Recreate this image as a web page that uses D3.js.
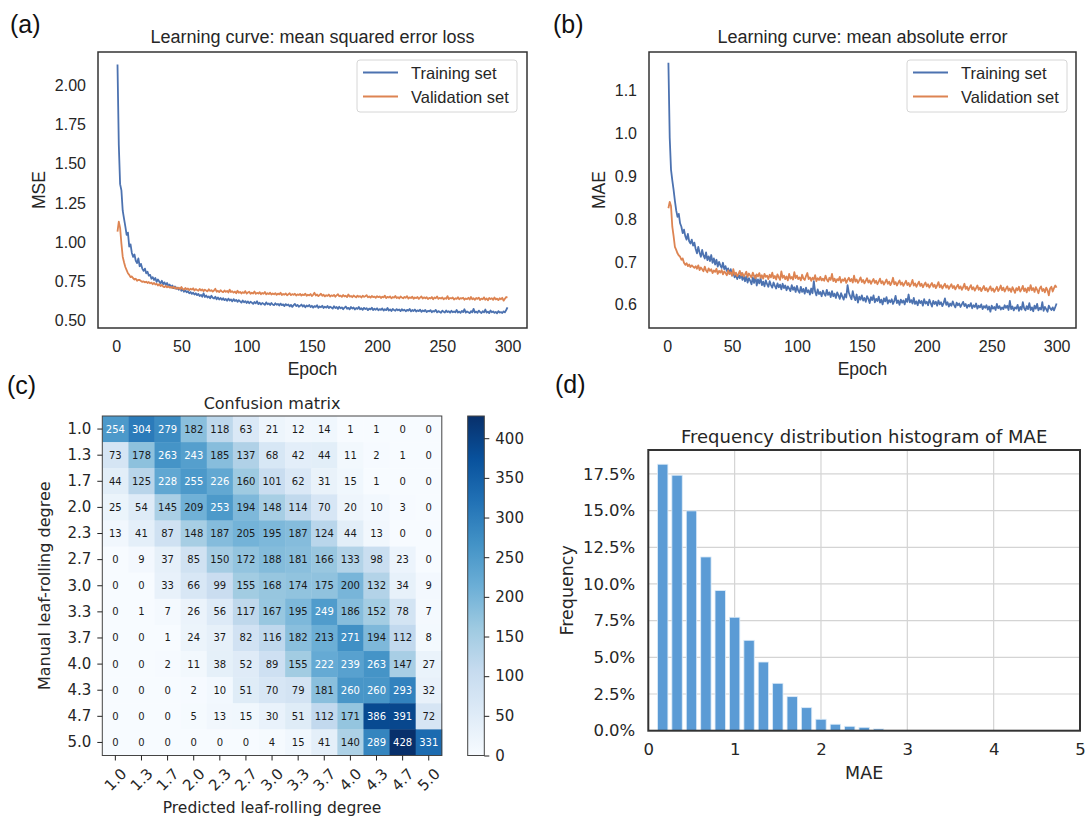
<!DOCTYPE html>
<html>
<head>
<script src="https://d3js.org/d3.v7.min.js"></script>
<style>
  body { margin: 0; background: #fff; }
  svg { display: block; }
</style>
</head>
<body>
<svg width="1086" height="819"></svg>
<script>
// ---- data ----
var epochs = d3.range(1, 301);

var mseTrain = [
  2.135,1.62,1.37,1.33,1.20,1.15,1.10,1.045,1.06,0.97,0.985,0.93,0.905,0.92,0.88,0.865,0.895,0.845,0.86,0.83,
  0.815,0.83,0.80,0.81,0.785,0.79,0.765,0.775,0.757,0.77,0.745,0.76,0.748,0.735,0.752,0.73,0.742,0.725,0.738,0.72,
  0.728,0.71,0.722,0.705,0.715,0.70,0.708,0.695,0.703,0.688,0.698,0.682,0.69,0.678,0.686,0.672,0.68,0.668,0.676,0.664,
  0.672,0.66,0.668,0.655,0.662,0.65,0.672,0.648,0.658,0.645,0.652,0.64,0.656,0.643,0.638,0.65,0.634,0.645,0.632,0.642,
  0.63,0.64,0.628,0.636,0.624,0.638,0.626,0.633,0.62,0.635,0.622,0.63,0.617,0.628,0.62,0.612,0.626,0.615,0.622,0.61,
  0.62,0.608,0.618,0.612,0.604,0.616,0.608,0.621,0.603,0.612,0.6,0.61,0.605,0.598,0.614,0.602,0.607,0.597,0.61,0.6,
  0.596,0.608,0.599,0.604,0.594,0.606,0.596,0.601,0.59,0.603,0.595,0.6,0.588,0.598,0.585,0.596,0.604,0.59,0.598,0.586,
  0.592,0.6,0.587,0.596,0.582,0.594,0.588,0.597,0.584,0.592,0.58,0.59,0.585,0.596,0.579,0.588,0.583,0.592,0.578,0.587,
  0.58,0.591,0.577,0.586,0.581,0.574,0.589,0.578,0.584,0.572,0.586,0.576,0.582,0.57,0.58,0.587,0.573,0.579,0.569,0.584,
  0.575,0.581,0.568,0.578,0.572,0.585,0.57,0.576,0.566,0.579,0.571,0.577,0.564,0.574,0.569,0.58,0.565,0.573,0.567,0.576,
  0.563,0.571,0.566,0.575,0.561,0.57,0.564,0.578,0.562,0.569,0.559,0.572,0.565,0.56,0.571,0.563,0.568,0.558,0.57,0.562,
  0.567,0.557,0.566,0.561,0.572,0.556,0.565,0.559,0.568,0.555,0.563,0.558,0.567,0.553,0.562,0.557,0.565,0.552,0.56,0.556,
  0.564,0.551,0.559,0.555,0.566,0.55,0.558,0.553,0.547,0.561,0.554,0.549,0.562,0.552,0.557,0.548,0.56,0.551,0.556,0.55,
  0.565,0.549,0.555,0.547,0.559,0.552,0.57,0.548,0.556,0.551,0.545,0.558,0.55,0.572,0.549,0.555,0.547,0.561,0.552,0.546,
  0.557,0.55,0.568,0.548,0.555,0.545,0.562,0.551,0.556,0.547,0.553,0.544,0.558,0.549,0.552,0.546,0.556,0.55,0.565,0.582
];
var mseVal = [
  1.066,1.13,1.09,0.99,0.906,0.87,0.84,0.82,0.80,0.79,0.775,0.78,0.768,0.76,0.765,0.752,0.758,0.757,0.75,0.745,
  0.748,0.742,0.746,0.738,0.744,0.736,0.74,0.73,0.738,0.728,0.733,0.722,0.73,0.718,0.726,0.715,0.712,0.72,0.71,0.716,
  0.708,0.713,0.705,0.714,0.702,0.71,0.7,0.708,0.698,0.712,0.7,0.695,0.706,0.697,0.703,0.692,0.701,0.696,0.704,0.69,
  0.699,0.693,0.688,0.7,0.69,0.697,0.686,0.695,0.689,0.684,0.698,0.687,0.692,0.683,0.69,0.701,0.682,0.688,0.68,0.692,
  0.684,0.679,0.69,0.681,0.687,0.677,0.695,0.68,0.685,0.676,0.683,0.672,0.688,0.675,0.681,0.671,0.679,0.674,0.686,0.67,
  0.677,0.682,0.669,0.676,0.671,0.684,0.668,0.675,0.67,0.679,0.666,0.674,0.669,0.68,0.665,0.672,0.667,0.676,0.664,0.671,
  0.666,0.673,0.662,0.67,0.665,0.675,0.661,0.668,0.663,0.671,0.659,0.666,0.672,0.66,0.667,0.662,0.669,0.658,0.665,0.661,
  0.668,0.657,0.664,0.66,0.67,0.656,0.663,0.659,0.667,0.655,0.662,0.675,0.658,0.664,0.654,0.661,0.669,0.656,0.663,0.652,
  0.66,0.655,0.664,0.651,0.659,0.654,0.662,0.65,0.658,0.666,0.653,0.657,0.649,0.661,0.652,0.656,0.648,0.664,0.651,0.655,
  0.647,0.658,0.652,0.646,0.657,0.65,0.654,0.645,0.656,0.649,0.653,0.66,0.646,0.652,0.644,0.655,0.648,0.651,0.643,0.654,
  0.647,0.652,0.642,0.65,0.646,0.657,0.641,0.649,0.645,0.652,0.64,0.648,0.644,0.655,0.642,0.647,0.639,0.651,0.645,0.64,
  0.649,0.643,0.654,0.638,0.646,0.642,0.65,0.637,0.645,0.641,0.648,0.636,0.644,0.652,0.639,0.646,0.64,0.647,0.635,0.643,
  0.639,0.648,0.634,0.645,0.64,0.652,0.636,0.643,0.638,0.646,0.633,0.641,0.637,0.654,0.635,0.642,0.639,0.645,0.632,0.64,
  0.636,0.647,0.634,0.641,0.638,0.644,0.631,0.639,0.635,0.643,0.632,0.648,0.634,0.64,0.63,0.642,0.636,0.644,0.629,0.638,
  0.634,0.646,0.631,0.639,0.627,0.642,0.635,0.64,0.63,0.645,0.633,0.638,0.628,0.64,0.634,0.643,0.625,0.637,0.648,0.645
];
var maeTrain = [
  1.164,0.99,0.915,0.89,0.868,0.842,0.82,0.805,0.812,0.79,0.782,0.767,0.775,0.76,0.752,0.765,0.748,0.743,0.752,0.738,
  0.745,0.73,0.72,0.735,0.722,0.712,0.728,0.715,0.708,0.722,0.704,0.713,0.702,0.716,0.698,0.708,0.694,0.705,0.689,0.7,
  0.692,0.686,0.698,0.683,0.69,0.679,0.685,0.672,0.683,0.668,0.676,0.664,0.672,0.66,0.67,0.662,0.674,0.658,0.668,0.655,
  0.666,0.652,0.662,0.656,0.648,0.664,0.651,0.668,0.645,0.659,0.65,0.662,0.646,0.654,0.643,0.657,0.648,0.642,0.655,0.646,
  0.64,0.652,0.644,0.638,0.65,0.641,0.647,0.636,0.649,0.639,0.645,0.634,0.643,0.638,0.632,0.646,0.635,0.641,0.63,0.644,
  0.633,0.628,0.642,0.63,0.637,0.626,0.64,0.629,0.634,0.624,0.638,0.627,0.655,0.631,0.622,0.636,0.625,0.63,0.62,0.633,
  0.626,0.621,0.635,0.623,0.629,0.618,0.632,0.62,0.626,0.616,0.629,0.622,0.614,0.627,0.619,0.612,0.625,0.617,0.646,0.628,
  0.62,0.613,0.632,0.618,0.611,0.624,0.605,0.619,0.612,0.622,0.61,0.616,0.607,0.62,0.614,0.604,0.618,0.611,0.622,0.606,
  0.614,0.609,0.619,0.605,0.612,0.601,0.615,0.608,0.618,0.603,0.611,0.606,0.613,0.602,0.609,0.621,0.604,0.61,0.6,0.612,
  0.605,0.61,0.601,0.614,0.607,0.624,0.606,0.611,0.603,0.616,0.602,0.608,0.599,0.611,0.604,0.609,0.598,0.613,0.603,0.607,
  0.599,0.612,0.604,0.596,0.609,0.602,0.607,0.598,0.61,0.601,0.606,0.597,0.604,0.615,0.6,0.606,0.596,0.603,0.598,0.608,
  0.6,0.594,0.605,0.599,0.603,0.595,0.601,0.607,0.597,0.602,0.593,0.6,0.596,0.604,0.592,0.599,0.595,0.603,0.591,0.598,
  0.594,0.601,0.59,0.597,0.593,0.599,0.589,0.596,0.584,0.598,0.591,0.595,0.588,0.602,0.592,0.597,0.589,0.594,0.59,0.599,
  0.593,0.598,0.588,0.609,0.59,0.596,0.587,0.594,0.591,0.6,0.586,0.595,0.589,0.606,0.592,0.587,0.597,0.59,0.604,0.588,
  0.594,0.585,0.598,0.591,0.602,0.587,0.593,0.589,0.606,0.586,0.595,0.59,0.584,0.598,0.592,0.588,0.594,0.587,0.595,0.603
];
var maeVal = [
  0.825,0.84,0.83,0.782,0.76,0.735,0.728,0.72,0.715,0.712,0.705,0.708,0.698,0.693,0.697,0.69,0.694,0.688,0.692,0.689,
  0.686,0.69,0.684,0.692,0.681,0.687,0.683,0.678,0.689,0.68,0.676,0.685,0.679,0.683,0.674,0.68,0.677,0.684,0.672,0.679,
  0.675,0.681,0.671,0.678,0.674,0.669,0.68,0.672,0.676,0.668,0.683,0.67,0.675,0.667,0.672,0.679,0.668,0.674,0.666,0.671,
  0.677,0.665,0.673,0.668,0.664,0.675,0.667,0.662,0.671,0.666,0.674,0.663,0.669,0.661,0.672,0.665,0.668,0.66,0.67,0.664,
  0.675,0.662,0.667,0.659,0.671,0.664,0.658,0.678,0.663,0.668,0.66,0.666,0.657,0.672,0.661,0.665,0.659,0.676,0.662,0.668,
  0.66,0.664,0.657,0.67,0.661,0.658,0.667,0.674,0.66,0.664,0.656,0.663,0.659,0.669,0.655,0.662,0.658,0.665,0.657,0.661,
  0.656,0.668,0.659,0.654,0.663,0.658,0.672,0.655,0.661,0.653,0.66,0.657,0.665,0.652,0.659,0.656,0.662,0.651,0.658,0.663,
  0.655,0.66,0.652,0.668,0.654,0.659,0.651,0.657,0.664,0.653,0.658,0.65,0.656,0.662,0.652,0.657,0.649,0.655,0.66,0.651,
  0.656,0.648,0.654,0.661,0.65,0.655,0.647,0.653,0.659,0.649,0.654,0.646,0.652,0.663,0.648,0.653,0.645,0.651,0.657,0.647,
  0.652,0.644,0.65,0.656,0.646,0.651,0.643,0.649,0.658,0.645,0.65,0.642,0.648,0.654,0.644,0.649,0.641,0.647,0.652,0.643,
  0.648,0.64,0.646,0.651,0.642,0.647,0.639,0.645,0.653,0.641,0.646,0.638,0.644,0.649,0.64,0.645,0.637,0.643,0.648,0.639,
  0.644,0.636,0.642,0.647,0.638,0.643,0.635,0.641,0.649,0.637,0.642,0.634,0.64,0.646,0.636,0.641,0.633,0.639,0.645,0.635,
  0.64,0.632,0.638,0.644,0.634,0.639,0.631,0.637,0.643,0.633,0.638,0.63,0.636,0.642,0.632,0.637,0.645,0.634,0.64,0.631,
  0.637,0.643,0.633,0.638,0.63,0.641,0.635,0.628,0.639,0.634,0.642,0.631,0.636,0.644,0.632,0.638,0.629,0.64,0.633,0.646,
  0.634,0.639,0.63,0.641,0.635,0.627,0.638,0.643,0.632,0.637,0.629,0.64,0.634,0.622,0.638,0.642,0.631,0.639,0.645,0.64
];

var epochTicks = [0, 50, 100, 150, 200, 250, 300];
var mseTicks = [0.50, 0.75, 1.00, 1.25, 1.50, 1.75, 2.00];
var maeTicks = [0.6, 0.7, 0.8, 0.9, 1.0, 1.1];
var seriesNames = ["Training set", "Validation set"];

var degrees = ["1.0","1.3","1.7","2.0","2.3","2.7","3.0","3.3","3.7","4.0","4.3","4.7","5.0"];
var confusion = [
  [254,304,279,182,118, 63, 21, 12, 14,  1,  1,  0,  0],
  [ 73,178,263,243,185,137, 68, 42, 44, 11,  2,  1,  0],
  [ 44,125,228,255,226,160,101, 62, 31, 15,  1,  0,  0],
  [ 25, 54,145,209,253,194,148,114, 70, 20, 10,  3,  0],
  [ 13, 41, 87,148,187,205,195,187,124, 44, 13,  0,  0],
  [  0,  9, 37, 85,150,172,188,181,166,133, 98, 23,  0],
  [  0,  0, 33, 66, 99,155,168,174,175,200,132, 34,  9],
  [  0,  1,  7, 26, 56,117,167,195,249,186,152, 78,  7],
  [  0,  0,  1, 24, 37, 82,116,182,213,271,194,112,  8],
  [  0,  0,  2, 11, 38, 52, 89,155,222,239,263,147, 27],
  [  0,  0,  0,  2, 10, 51, 70, 79,181,260,260,293, 32],
  [  0,  0,  0,  5, 13, 15, 30, 51,112,171,386,391, 72],
  [  0,  0,  0,  0,  0,  0,  4, 15, 41,140,289,428,331]
];
var colorbarTicks = [0, 50, 100, 150, 200, 250, 300, 350, 400];

var histCenters = [0.167,0.333,0.5,0.667,0.833,1.0,1.167,1.333,1.5,1.667,1.833,2.0,2.167,2.333,2.5,2.667];
var histFreq = [18.16,17.41,14.98,11.84,9.55,7.73,6.16,4.68,3.23,2.32,1.57,0.78,0.44,0.30,0.23,0.12];
var freqTicks = [0, 2.5, 5, 7.5, 10, 12.5, 15, 17.5];
var maeXTicks = [0, 1, 2, 3, 4, 5];

// ---- drawing ----
var svg = d3.select("svg");
var ARIAL = "'Liberation Sans', Arial, sans-serif";
var DEJAVU = "'DejaVu Sans', sans-serif";
var ink = "#262626";
var blue = "#4c72b0", orange = "#dd8452";

function panelLabel(txt, x, y) {
  svg.append("text").attr("x", x).attr("y", y).text(txt)
    .attr("font-family", ARIAL).attr("font-size", 25).attr("fill", "#111");
}

function styleAxis(sel, family, size) {
  sel.attr("font-family", family).attr("font-size", size);
  sel.selectAll("text").attr("fill", ink);
}

function learningPanel(p) {
  var x = d3.scaleLinear().domain([-13.95, 314.95]).range([p.left, p.right]);
  var y = d3.scaleLinear().domain(p.yDomain).range([p.bottom, p.top]);
  var g = svg.append("g");

  var line = d3.line().x(function (d, i) { return x(epochs[i]); }).y(function (d) { return y(d); });
  [[p.train, blue], [p.val, orange]].forEach(function (s) {
    g.append("path").datum(s[0]).attr("d", line)
      .attr("fill", "none").attr("stroke", s[1]).attr("stroke-width", 1.8)
      .attr("stroke-linejoin", "round");
  });

  g.append("rect").attr("x", p.left).attr("y", p.top)
    .attr("width", p.right - p.left).attr("height", p.bottom - p.top)
    .attr("fill", "none").attr("stroke", "#333").attr("stroke-width", 1.5);

  var ya = g.append("g").attr("transform", "translate(" + p.left + ",0)")
    .call(d3.axisLeft(y).tickValues(p.yTicks).tickSize(0).tickPadding(12).tickFormat(p.fmt));
  ya.select(".domain").remove();
  styleAxis(ya, ARIAL, 16);

  var xa = g.append("g").attr("transform", "translate(0," + p.bottom + ")")
    .call(d3.axisBottom(x).tickValues(epochTicks).tickSize(0).tickPadding(13).tickFormat(d3.format("d")));
  xa.select(".domain").remove();
  styleAxis(xa, ARIAL, 16);

  var cx = (p.left + p.right) / 2;
  g.append("text").attr("x", cx).attr("y", 43).attr("text-anchor", "middle")
    .attr("font-family", ARIAL).attr("font-size", 18).attr("fill", ink).text(p.title);
  g.append("text").attr("x", cx).attr("y", 375).attr("text-anchor", "middle")
    .attr("font-family", ARIAL).attr("font-size", 17.5).attr("fill", ink).text("Epoch");
  g.append("text").attr("transform", "translate(" + p.ylabX + "," + ((p.top + p.bottom) / 2) + ") rotate(-90)")
    .attr("text-anchor", "middle").attr("font-family", ARIAL).attr("font-size", 17.5)
    .attr("fill", ink).text(p.ylabel);

  // legend
  var lg = g.append("g").attr("transform", "translate(" + p.legX + ",60)");
  lg.append("rect").attr("width", 160).attr("height", 52).attr("rx", 3)
    .attr("fill", "#fff").attr("fill-opacity", 0.8).attr("stroke", "#d6d6d6");
  [blue, orange].forEach(function (c, i) {
    var yy = 12.5 + i * 24;
    lg.append("line").attr("x1", 6).attr("x2", 41).attr("y1", yy).attr("y2", yy)
      .attr("stroke", c).attr("stroke-width", 1.8);
    lg.append("text").attr("x", 54).attr("y", yy + 6).attr("font-family", ARIAL)
      .attr("font-size", 16.5).attr("fill", ink).text(seriesNames[i]);
  });
}

learningPanel({
  left: 98, right: 527, top: 52, bottom: 328, yDomain: [0.45, 2.215], yTicks: mseTicks,
  fmt: d3.format(".2f"), train: mseTrain, val: mseVal,
  title: "Learning curve: mean squared error loss", ylabel: "MSE", ylabX: 45, legX: 357
});
learningPanel({
  left: 649, right: 1076, top: 52, bottom: 328, yDomain: [0.546, 1.189], yTicks: maeTicks,
  fmt: d3.format(".1f"), train: maeTrain, val: maeVal,
  title: "Learning curve: mean absolute error", ylabel: "MAE", ylabX: 605, legX: 907
});

panelLabel("(a)", 10, 33);
panelLabel("(b)", 553, 33);
panelLabel("(c)", 7, 394);
panelLabel("(d)", 555, 393);

// ---- (c) confusion matrix ----
(function () {
  var left = 102.3, top = 416, size = 339.5;
  var xb = d3.scaleBand().domain(degrees).range([left, left + size]);
  var yb = d3.scaleBand().domain(degrees).range([top, top + size]);
  var vmax = d3.max(confusion, function (r) { return d3.max(r); });
  var blues = ["#f7fbff","#deebf7","#c6dbef","#9ecae1","#6baed6","#4292c6","#2171b5","#08519c","#08306b"];
  var color = d3.scaleLinear().domain(d3.range(9).map(function (i) { return vmax * i / 8; })).range(blues);
  var g = svg.append("g");

  var cells = [];
  confusion.forEach(function (row, i) {
    row.forEach(function (v, j) { cells.push({ r: degrees[i], c: degrees[j], v: v }); });
  });
  g.selectAll("rect.cell").data(cells).enter().append("rect")
    .attr("x", function (d) { return xb(d.c); }).attr("y", function (d) { return yb(d.r); })
    .attr("width", xb.bandwidth() + 0.4).attr("height", yb.bandwidth() + 0.4)
    .attr("fill", function (d) { return color(d.v); });
  g.selectAll("text.cell").data(cells).enter().append("text")
    .attr("x", function (d) { return xb(d.c) + xb.bandwidth() / 2; })
    .attr("y", function (d) { return yb(d.r) + yb.bandwidth() / 2; })
    .attr("dy", "0.35em").attr("text-anchor", "middle")
    .attr("font-family", DEJAVU).attr("font-size", 10)
    .attr("fill", function (d) { return d.v > vmax / 2 ? "#fff" : "#1a1a1a"; })
    .text(function (d) { return d.v; });
  g.append("rect").attr("x", left).attr("y", top).attr("width", size).attr("height", size)
    .attr("fill", "none").attr("stroke", "#444").attr("stroke-width", 1);

  var ya = g.append("g").attr("transform", "translate(" + left + ",0)")
    .call(d3.axisLeft(yb).tickSize(5).tickPadding(6));
  ya.select(".domain").remove();
  styleAxis(ya, DEJAVU, 15);
  ya.selectAll("line").attr("stroke", "#222");

  var xa = g.append("g").attr("transform", "translate(0," + (top + size) + ")")
    .call(d3.axisBottom(xb).tickSize(5).tickPadding(6));
  xa.select(".domain").remove();
  styleAxis(xa, DEJAVU, 15);
  xa.selectAll("line").attr("stroke", "#222");
  xa.selectAll("text").attr("y", 24).attr("dy", "0.35em").attr("text-anchor", "middle")
    .attr("transform", "rotate(-45 0 24)");

  g.append("text").attr("x", left + size / 2).attr("y", 409).attr("text-anchor", "middle")
    .attr("font-family", DEJAVU).attr("font-size", 16).attr("fill", ink).text("Confusion matrix");
  g.append("text").attr("x", left + size / 2).attr("y", 813).attr("text-anchor", "middle")
    .attr("font-family", DEJAVU).attr("font-size", 15.5).attr("fill", ink).text("Predicted leaf-rolling degree");
  g.append("text").attr("transform", "translate(50," + (top + size / 2) + ") rotate(-90)")
    .attr("text-anchor", "middle").attr("font-family", DEJAVU).attr("font-size", 16)
    .attr("fill", ink).text("Manual leaf-rolling degree");

  // colorbar
  var cbL = 467.7, cbW = 16.6;
  var cy = d3.scaleLinear().domain([0, vmax]).range([top + size, top]);
  var defs = svg.append("defs");
  var grad = defs.append("linearGradient").attr("id", "cbgrad")
    .attr("x1", 0).attr("y1", 1).attr("x2", 0).attr("y2", 0);
  blues.forEach(function (c, i) {
    grad.append("stop").attr("offset", (i / 8 * 100) + "%").attr("stop-color", c);
  });
  g.append("rect").attr("x", cbL).attr("y", top).attr("width", cbW).attr("height", size)
    .attr("fill", "url(#cbgrad)").attr("stroke", "#444").attr("stroke-width", 1);
  var ca = g.append("g").attr("transform", "translate(" + (cbL + cbW) + ",0)")
    .call(d3.axisRight(cy).tickValues(colorbarTicks).tickSize(5).tickPadding(6));
  ca.select(".domain").remove();
  styleAxis(ca, DEJAVU, 15);
  ca.selectAll("line").attr("stroke", "#222");
})();

// ---- (d) histogram ----
(function () {
  var left = 648.3, right = 1080, top = 450, bottom = 730.7;
  var x = d3.scaleLinear().domain([0, 5]).range([left, right]);
  var y = d3.scaleLinear().domain([0, 19.13]).range([bottom, top]);
  var g = svg.append("g");

  g.append("g").selectAll("line.gx").data(maeXTicks.slice(1, 5)).enter().append("line")
    .attr("x1", function (d) { return x(d); }).attr("x2", function (d) { return x(d); })
    .attr("y1", top).attr("y2", bottom).attr("stroke", "#d4d4d4").attr("stroke-width", 1.2);
  g.append("g").selectAll("line.gy").data(freqTicks.slice(1)).enter().append("line")
    .attr("x1", left).attr("x2", right)
    .attr("y1", function (d) { return y(d); }).attr("y2", function (d) { return y(d); })
    .attr("stroke", "#d4d4d4").attr("stroke-width", 1.2);

  var bw = 0.12;
  g.selectAll("rect.bar").data(histFreq).enter().append("rect")
    .attr("x", function (d, i) { return x(histCenters[i] - bw / 2); })
    .attr("width", x(bw) - x(0))
    .attr("y", function (d) { return y(d); })
    .attr("height", function (d) { return bottom - y(d); })
    .attr("fill", "#5b9bd5").attr("stroke", "#dcebf8").attr("stroke-width", 0.8);

  g.append("rect").attr("x", left).attr("y", top).attr("width", right - left).attr("height", bottom - top)
    .attr("fill", "none").attr("stroke", "#333").attr("stroke-width", 2);

  var ya = g.append("g").attr("transform", "translate(" + left + ",0)")
    .call(d3.axisLeft(y).tickValues(freqTicks).tickSize(0).tickPadding(13)
      .tickFormat(function (d) { return d3.format(".1f")(d) + "%"; }));
  ya.select(".domain").remove();
  styleAxis(ya, DEJAVU, 16.5);

  var xa = g.append("g").attr("transform", "translate(0," + bottom + ")")
    .call(d3.axisBottom(x).tickValues(maeXTicks).tickSize(0).tickPadding(13).tickFormat(d3.format("d")));
  xa.select(".domain").remove();
  styleAxis(xa, DEJAVU, 16.5);

  var cx = (left + right) / 2;
  g.append("text").attr("x", cx).attr("y", 443).attr("text-anchor", "middle")
    .attr("font-family", DEJAVU).attr("font-size", 18).attr("fill", ink)
    .text("Frequency distribution histogram of MAE");
  g.append("text").attr("x", cx).attr("y", 779).attr("text-anchor", "middle")
    .attr("font-family", DEJAVU).attr("font-size", 17.5).attr("fill", ink).text("MAE");
  g.append("text").attr("transform", "translate(573," + ((top + bottom) / 2) + ") rotate(-90)")
    .attr("text-anchor", "middle").attr("font-family", DEJAVU).attr("font-size", 17.5)
    .attr("fill", ink).text("Frequency");
})();
</script>
</body>
</html>
